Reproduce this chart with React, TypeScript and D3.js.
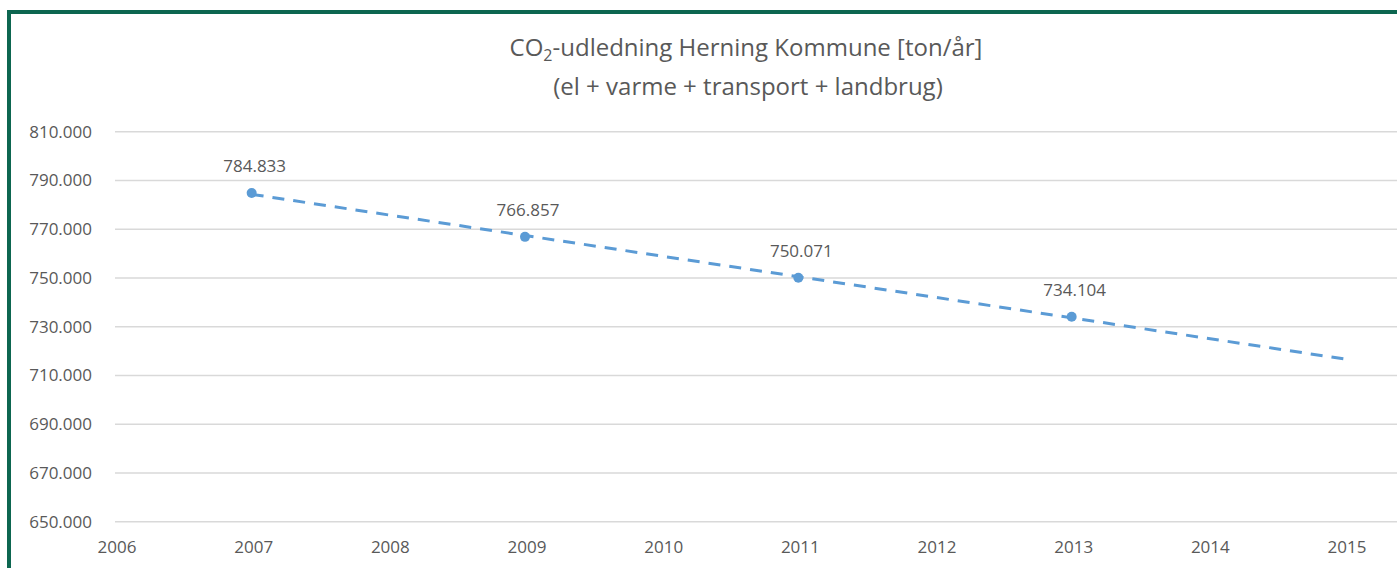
import * as d3 from 'd3';

// chart data
const years = [2007, 2009, 2011, 2013];
const emissions = [784833, 766857, 750071, 734104];
const yTicks = [650000, 670000, 690000, 710000, 730000, 750000, 770000, 790000, 810000];
const xTicks = [2006, 2007, 2008, 2009, 2010, 2011, 2012, 2013, 2014, 2015];
const trendRange = [2007, 2015];

const width = 1397;
const height = 568;
const font = "'Open Sans', 'Liberation Sans', sans-serif";
const textColor = '#595959';
const blue = '#5b9bd5';
const frame = '#0d6650';

// danish number format: 784.833
const fmt = (v: number) => d3.format(',')(v).replace(/,/g, '.');

export default function App() {
  const x = d3.scaleLinear().domain([2006, 2015]).range([115, 1345]);
  const y = d3.scaleLinear().domain([650000, 810000]).range([521.7, 131.7]);

  // linear trend (least squares) of the measured points
  const mx = d3.mean(years)!;
  const my = d3.mean(emissions)!;
  const slope =
    d3.sum(years, (yr, i) => (yr - mx) * (emissions[i] - my)) /
    d3.sum(years, (yr) => (yr - mx) ** 2);
  const trend = trendRange.map((yr) => [yr, my + slope * (yr - mx)] as [number, number]);
  const line = d3
    .line<[number, number]>()
    .x((d) => x(d[0]))
    .y((d) => y(d[1]));

  return (
    <svg
      width={width}
      height={height}
      style={{ position: 'absolute', left: 0, top: 0, background: '#fff' }}
      fontFamily={font}
    >
      {/* frame */}
      <rect x={0} y={0} width={width} height={height} fill="#fff" />
      <rect x={7} y={10} width={width} height={4} fill={frame} />
      <rect x={7} y={10} width={4} height={height} fill={frame} />

      {/* title */}
      <text x={746} y={56} textAnchor="middle" fontSize={24} fill={textColor}>
        CO<tspan fontSize={16} dy={5}>2</tspan>
        <tspan dy={-5}>-udledning Herning Kommune [ton/år]</tspan>
      </text>
      <text x={748} y={95} textAnchor="middle" fontSize={24} fill={textColor}>
        (el + varme + transport + landbrug)
      </text>

      {/* gridlines + y labels */}
      {yTicks.map((t) => (
        <g key={t}>
          <line x1={115} x2={width} y1={y(t)} y2={y(t)} stroke="#d9d9d9" strokeWidth={1.5} />
          <text x={92} y={y(t) + 6} textAnchor="end" fontSize={17} fill={textColor}>
            {fmt(t)}
          </text>
        </g>
      ))}

      {/* x labels */}
      {xTicks.map((t) => (
        <text key={t} x={x(t) + 2} y={553} textAnchor="middle" fontSize={17} fill={textColor}>
          {t}
        </text>
      ))}

      {/* trendline */}
      <path
        d={line(trend)!}
        fill="none"
        stroke={blue}
        strokeWidth={3}
        strokeDasharray="12,9"
      />

      {/* points + labels */}
      {years.map((yr, i) => (
        <g key={yr}>
          <circle cx={x(yr)} cy={y(emissions[i])} r={5} fill={blue} />
          <text
            x={x(yr) + 3}
            y={y(emissions[i]) - 21}
            textAnchor="middle"
            fontSize={17}
            fill={textColor}
          >
            {fmt(emissions[i])}
          </text>
        </g>
      ))}
    </svg>
  );
}
